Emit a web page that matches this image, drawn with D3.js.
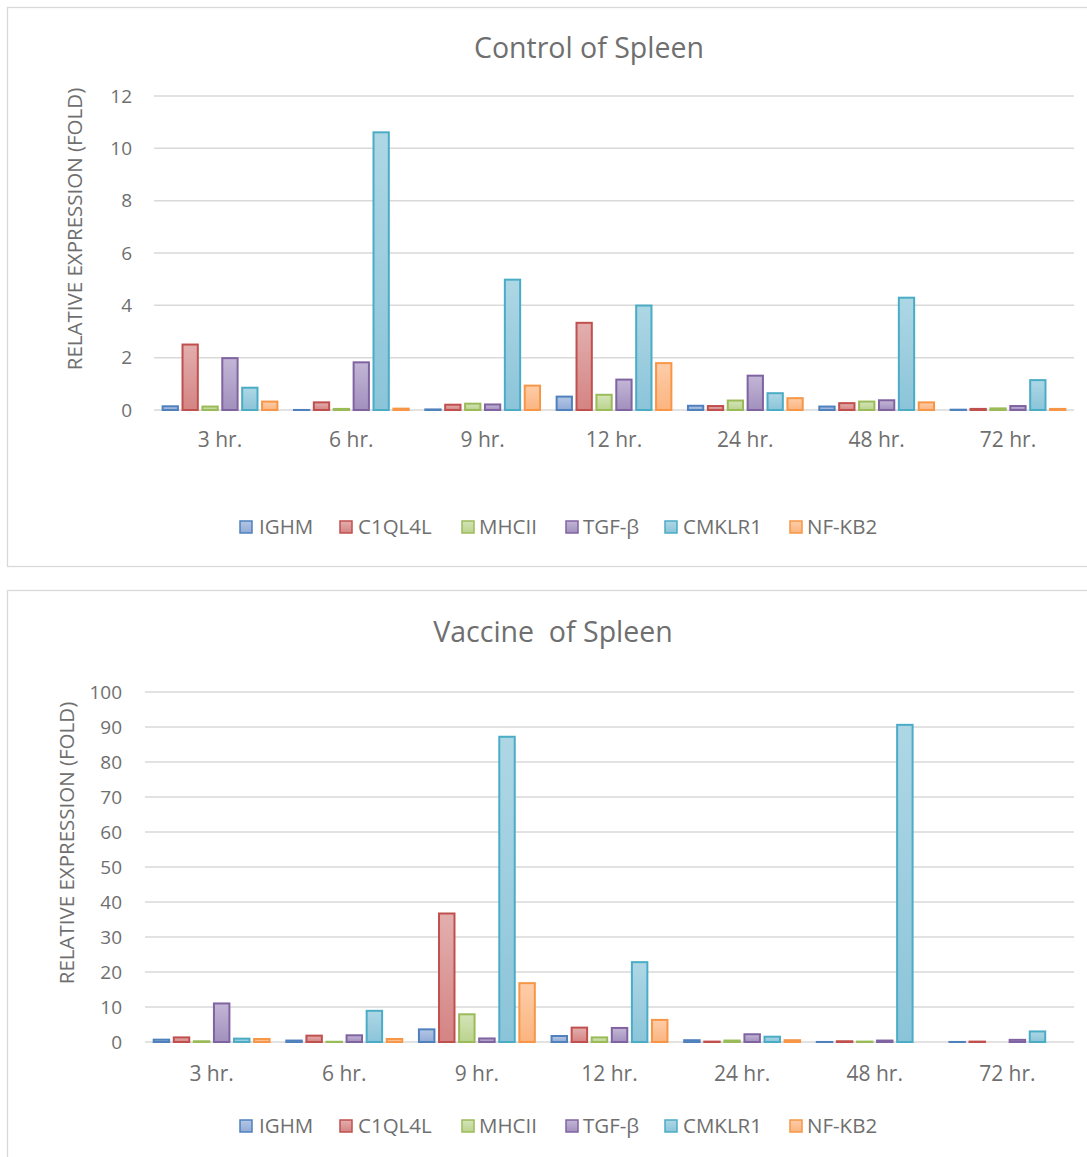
<!DOCTYPE html>
<html><head><meta charset="utf-8">
<script src="https://cdn.jsdelivr.net/npm/d3@7"></script>
<style>body{margin:0;background:#fff}svg{display:block}text{font-family:"Open Sans",Lato,sans-serif;fill:#6f6f6f;white-space:pre}</style>
</head><body><svg id="c" width="1087" height="1157"></svg>
<script>
const categories = ["3 hr.","6 hr.","9 hr.","12 hr.","24 hr.","48 hr.","72 hr."];
const seriesNames = ["IGHM","C1QL4L","MHCII","TGF-β","CMKLR1","NF-KB2"];
// Control of Spleen: values[series][category]
const controlIGHM   = [0.18,0.04,0.06,0.55,0.20,0.17,0.05];
const controlC1QL4L = [2.54,0.33,0.24,3.37,0.19,0.30,0.08];
const controlMHCII  = [0.17,0.08,0.28,0.62,0.40,0.36,0.10];
const controlTGFb   = [2.02,1.86,0.25,1.20,1.35,0.41,0.19];
const controlCMKLR1 = [0.89,10.65,5.02,4.03,0.68,4.33,1.18];
const controlNFKB2  = [0.36,0.09,0.97,1.83,0.49,0.33,0.08];
// Vaccine of Spleen
const vaccineIGHM   = [0.95,0.7,3.9,2.0,0.8,0.3,0.3];
const vaccineC1QL4L = [1.6,2.1,37.0,4.4,0.4,0.5,0.4];
const vaccineMHCII  = [0.5,0.35,8.2,1.6,0.7,0.4,0.2];
const vaccineTGFb   = [11.3,2.2,1.3,4.3,2.5,0.7,0.9];
const vaccineCMKLR1 = [1.25,9.2,87.5,23.1,1.8,90.9,3.3];
const vaccineNFKB2  = [1.15,1.15,17.1,6.6,0.8,0.2,0.2];
const controlTicks = [0,2,4,6,8,10,12];
const vaccineTicks = [0,10,20,30,40,50,60,70,80,90,100];

const strokeCols = ["#4f81bd","#c0504d","#9bbb59","#8064a2","#4bacc6","#f79646"];
const gradTop    = ["#b3c6e5","#e2afae","#d4e4b8","#c3b6d6","#aed7e5","#fdcda9"];
const gradBot    = ["#92abd7","#d48483","#bbd38e","#a290bd","#8bc4d9","#fbb47f"];

const svg = d3.select("#c");
const defs = svg.append("defs");
seriesNames.forEach((s,i)=>{
  const g = defs.append("linearGradient").attr("id","g"+i).attr("x1",0).attr("y1",0).attr("x2",0).attr("y2",1);
  g.append("stop").attr("offset","0%").attr("stop-color",gradTop[i]);
  g.append("stop").attr("offset","100%").attr("stop-color",gradBot[i]);
});

const charts = [
  {title:"Control of Spleen", data:[controlIGHM,controlC1QL4L,controlMHCII,controlTGFb,controlCMKLR1,controlNFKB2],
   ticks:controlTicks, frame:[7,7,1100,559], yTop:96, yBot:410, xL:154, xR:1074, titleX:589, titleY:48,
   tickX:132, axisTitleX:75, xLabY:440, legY:527},
  {title:"Vaccine  of Spleen", data:[vaccineIGHM,vaccineC1QL4L,vaccineMHCII,vaccineTGFb,vaccineCMKLR1,vaccineNFKB2],
   ticks:vaccineTicks, frame:[7,590,1100,600], yTop:692, yBot:1042, xL:145, xR:1074, titleX:553, titleY:632,
   tickX:122, axisTitleX:67, xLabY:1074, legY:1126}
];
const legendX = [[240,259],[340,358],[462,479],[566,583],[665,683],[790,807]];

charts.forEach(c=>{
  const g = svg.append("g");
  g.append("rect").attr("x",c.frame[0]+0.5).attr("y",c.frame[1]+0.5).attr("width",c.frame[2]).attr("height",c.frame[3])
    .attr("fill","#fff").attr("stroke","#d9d9d9").attr("stroke-width",1.3);
  const y = d3.scaleLinear().domain([0,d3.max(c.ticks)]).range([c.yBot,c.yTop]);
  const x0 = d3.scaleBand().domain(categories).range([c.xL,c.xR]).paddingInner(0.105).paddingOuter(0.055);
  const x1 = d3.scaleBand().domain(seriesNames).range([0,x0.bandwidth()]).paddingInner(0.13).paddingOuter(0.02);
  g.selectAll(".grid").data(c.ticks).join("line")
    .attr("x1",c.xL).attr("x2",c.xR).attr("y1",d=>y(d)).attr("y2",d=>y(d))
    .attr("stroke","#d9d9d9").attr("stroke-width",1.5);
  g.selectAll(".tl").data(c.ticks).join("text")
    .attr("x",c.tickX).attr("y",d=>y(d)).attr("dy","0.35em").attr("text-anchor","end")
    .attr("font-size",19).text(d=>d);
  seriesNames.forEach((s,si)=>{
    g.selectAll(".b"+si).data(c.data[si]).join("rect")
      .attr("x",(d,ci)=>x0(categories[ci])+x1(s)+1)
      .attr("y",d=>y(d)+1)
      .attr("width",x1.bandwidth()-2)
      .attr("height",d=>Math.max(0,y(0)-y(d)-1))
      .attr("fill","url(#g"+si+")").attr("stroke",strokeCols[si]).attr("stroke-width",2);
  });
  g.selectAll(".xl").data(categories).join("text")
    .attr("x",d=>x0(d)+x0.bandwidth()/2).attr("y",c.xLabY).attr("dy","0.35em")
    .attr("text-anchor","middle").attr("font-size",21).text(d=>d);
  g.append("text").attr("x",c.titleX).attr("y",c.titleY).attr("dy","0.35em").attr("text-anchor","middle")
    .attr("font-size",28.5).text(c.title);
  g.append("text").attr("transform",`translate(${c.axisTitleX},${(c.yTop+c.yBot)/2-24}) rotate(-90)`)
    .attr("dy","0.35em").attr("text-anchor","middle").attr("font-size",20.5).text("RELATIVE EXPRESSION (FOLD)");
  seriesNames.forEach((s,si)=>{
    g.append("rect").attr("x",legendX[si][0]).attr("y",c.legY-6).attr("width",12).attr("height",12)
      .attr("fill","url(#g"+si+")").attr("stroke",strokeCols[si]).attr("stroke-width",1.5);
    g.append("text").attr("x",legendX[si][1]).attr("y",c.legY).attr("dy","0.35em").attr("font-size",20.5).text(s);
  });
});
</script></body></html>
